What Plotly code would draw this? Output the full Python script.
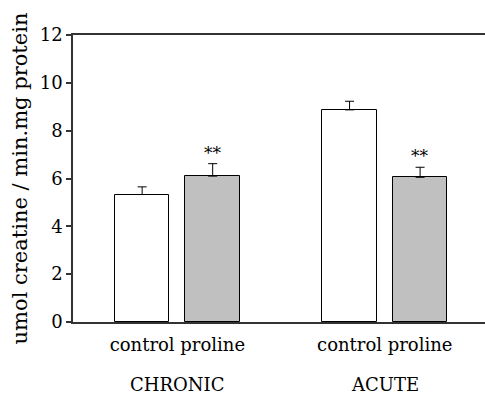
import plotly.graph_objects as go

# Creatine kinase activity, control vs proline, chronic and acute treatment
groups = ["CHRONIC", "ACUTE"]
treatments = ["control", "proline"]
means = [5.33, 6.10, 8.87, 6.05]
errors = [0.32, 0.52, 0.36, 0.42]
significance = ["", "**", "", "**"]
fills = ["white", "#c0c0c0", "white", "#c0c0c0"]

# bar positions: two bars per group, groups separated by a wider gap
group_centers = [1.5, 4.44]
pair_offset = 0.5
xpos = []
for gc in group_centers:
    xpos += [gc - pair_offset, gc + pair_offset]

FONT = "DejaVu Serif"

fig = go.Figure()
fig.add_trace(go.Bar(
    x=xpos, y=means, width=0.773,
    marker=dict(color=fills, line=dict(color="black", width=1)),
    error_y=dict(type="data", array=errors, arrayminus=[0] * len(errors),
                 symmetric=False, color="black", thickness=1, width=4.5),
    showlegend=False,
))

# significance marks above error bars
for x, m, e, s in zip(xpos, means, errors, significance):
    if s:
        fig.add_annotation(x=x, y=m + e, text=s, showarrow=False,
                           yanchor="bottom", yshift=-1,
                           font=dict(family=FONT, size=17, color="black"))

# group labels under the treatment labels
for gc, g in zip(group_centers, groups):
    fig.add_annotation(x=gc, y=0, xref="x", yref="paper", text=g,
                       showarrow=False, yanchor="top", yshift=-50,
                       font=dict(family=FONT, size=18, color="black"))

fig.update_layout(
    width=485, height=394,
    margin=dict(l=73, r=0, t=35, b=72),
    plot_bgcolor="white", paper_bgcolor="white",
    font=dict(family=FONT, color="black"),
    bargap=0,
    xaxis=dict(
        range=[0.02, 5.86],
        tickvals=xpos, ticktext=treatments * len(groups),
        tickfont=dict(family=FONT, size=18, color="black"),
        ticklabelstandoff=6,
        showline=True, mirror=True, linecolor="#333", linewidth=1.5,
        ticks="", showgrid=False, zeroline=False,
    ),
    yaxis=dict(
        range=[0, 12], tickvals=[0, 2, 4, 6, 8, 10, 12],
        tickfont=dict(family=FONT, size=18, color="black"),
        ticks="outside", ticklen=5, tickcolor="#333", tickwidth=1.5,
        showline=True, linecolor="#333", linewidth=1.5,
        showgrid=False, zeroline=False,
        title=dict(text="umol creatine / min.mg protein", standoff=6,
                   font=dict(family=FONT, size=21, color="black")),
    ),
)

fig.write_html("out.html")
